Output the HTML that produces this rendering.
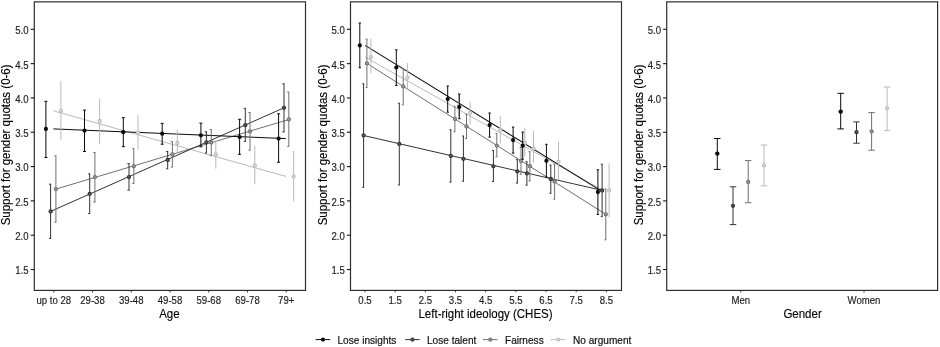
<!DOCTYPE html>
<html><head><meta charset="utf-8"><title>Support for gender quotas</title>
<style>
html,body{margin:0;padding:0;background:#fff;}
body{width:940px;height:347px;overflow:hidden;}
svg{display:block;}
text{font-family:"Liberation Sans",Arial,sans-serif;}
.tk{font-size:9.6px;fill:#222;stroke:#222;stroke-width:.15px;}
.ti{font-size:11.5px;fill:#000;stroke:#000;stroke-width:.12px;}
.lg{font-size:10.1px;fill:#111;stroke:#111;stroke-width:.18px;}
</style></head><body>
<svg width="940" height="347" viewBox="0 0 940 347">
<rect width="940" height="347" fill="#fff"/>
<rect x="34.3" y="1.85" width="271.20" height="288.55" fill="#fff" stroke="#2e2e2e" stroke-width="1.2"/>
<line x1="30.70" y1="269.54" x2="34.30" y2="269.54" stroke="#1c1c1c" stroke-width="1.15"/>
<text transform="translate(28.60,274.44) scale(1,1.08)" text-anchor="end" class="tk">1.5</text>
<line x1="30.70" y1="235.22" x2="34.30" y2="235.22" stroke="#1c1c1c" stroke-width="1.15"/>
<text transform="translate(28.60,240.12) scale(1,1.08)" text-anchor="end" class="tk">2.0</text>
<line x1="30.70" y1="200.90" x2="34.30" y2="200.90" stroke="#1c1c1c" stroke-width="1.15"/>
<text transform="translate(28.60,205.80) scale(1,1.08)" text-anchor="end" class="tk">2.5</text>
<line x1="30.70" y1="166.58" x2="34.30" y2="166.58" stroke="#1c1c1c" stroke-width="1.15"/>
<text transform="translate(28.60,171.48) scale(1,1.08)" text-anchor="end" class="tk">3.0</text>
<line x1="30.70" y1="132.26" x2="34.30" y2="132.26" stroke="#1c1c1c" stroke-width="1.15"/>
<text transform="translate(28.60,137.16) scale(1,1.08)" text-anchor="end" class="tk">3.5</text>
<line x1="30.70" y1="97.94" x2="34.30" y2="97.94" stroke="#1c1c1c" stroke-width="1.15"/>
<text transform="translate(28.60,102.84) scale(1,1.08)" text-anchor="end" class="tk">4.0</text>
<line x1="30.70" y1="63.62" x2="34.30" y2="63.62" stroke="#1c1c1c" stroke-width="1.15"/>
<text transform="translate(28.60,68.52) scale(1,1.08)" text-anchor="end" class="tk">4.5</text>
<line x1="30.70" y1="29.30" x2="34.30" y2="29.30" stroke="#1c1c1c" stroke-width="1.15"/>
<text transform="translate(28.60,34.20) scale(1,1.08)" text-anchor="end" class="tk">5.0</text>
<text transform="translate(10.30,144.90) rotate(-90) scale(1,1.04)" text-anchor="middle" class="ti">Support for gender quotas (0-6)</text>
<rect x="350.5" y="1.85" width="271.00" height="288.55" fill="#fff" stroke="#2e2e2e" stroke-width="1.2"/>
<line x1="346.90" y1="269.54" x2="350.50" y2="269.54" stroke="#1c1c1c" stroke-width="1.15"/>
<text transform="translate(344.80,274.44) scale(1,1.08)" text-anchor="end" class="tk">1.5</text>
<line x1="346.90" y1="235.22" x2="350.50" y2="235.22" stroke="#1c1c1c" stroke-width="1.15"/>
<text transform="translate(344.80,240.12) scale(1,1.08)" text-anchor="end" class="tk">2.0</text>
<line x1="346.90" y1="200.90" x2="350.50" y2="200.90" stroke="#1c1c1c" stroke-width="1.15"/>
<text transform="translate(344.80,205.80) scale(1,1.08)" text-anchor="end" class="tk">2.5</text>
<line x1="346.90" y1="166.58" x2="350.50" y2="166.58" stroke="#1c1c1c" stroke-width="1.15"/>
<text transform="translate(344.80,171.48) scale(1,1.08)" text-anchor="end" class="tk">3.0</text>
<line x1="346.90" y1="132.26" x2="350.50" y2="132.26" stroke="#1c1c1c" stroke-width="1.15"/>
<text transform="translate(344.80,137.16) scale(1,1.08)" text-anchor="end" class="tk">3.5</text>
<line x1="346.90" y1="97.94" x2="350.50" y2="97.94" stroke="#1c1c1c" stroke-width="1.15"/>
<text transform="translate(344.80,102.84) scale(1,1.08)" text-anchor="end" class="tk">4.0</text>
<line x1="346.90" y1="63.62" x2="350.50" y2="63.62" stroke="#1c1c1c" stroke-width="1.15"/>
<text transform="translate(344.80,68.52) scale(1,1.08)" text-anchor="end" class="tk">4.5</text>
<line x1="346.90" y1="29.30" x2="350.50" y2="29.30" stroke="#1c1c1c" stroke-width="1.15"/>
<text transform="translate(344.80,34.20) scale(1,1.08)" text-anchor="end" class="tk">5.0</text>
<text transform="translate(326.50,144.90) rotate(-90) scale(1,1.04)" text-anchor="middle" class="ti">Support for gender quotas (0-6)</text>
<rect x="666.7" y="1.85" width="270.90" height="288.55" fill="#fff" stroke="#2e2e2e" stroke-width="1.2"/>
<line x1="663.10" y1="269.54" x2="666.70" y2="269.54" stroke="#1c1c1c" stroke-width="1.15"/>
<text transform="translate(661.00,274.44) scale(1,1.08)" text-anchor="end" class="tk">1.5</text>
<line x1="663.10" y1="235.22" x2="666.70" y2="235.22" stroke="#1c1c1c" stroke-width="1.15"/>
<text transform="translate(661.00,240.12) scale(1,1.08)" text-anchor="end" class="tk">2.0</text>
<line x1="663.10" y1="200.90" x2="666.70" y2="200.90" stroke="#1c1c1c" stroke-width="1.15"/>
<text transform="translate(661.00,205.80) scale(1,1.08)" text-anchor="end" class="tk">2.5</text>
<line x1="663.10" y1="166.58" x2="666.70" y2="166.58" stroke="#1c1c1c" stroke-width="1.15"/>
<text transform="translate(661.00,171.48) scale(1,1.08)" text-anchor="end" class="tk">3.0</text>
<line x1="663.10" y1="132.26" x2="666.70" y2="132.26" stroke="#1c1c1c" stroke-width="1.15"/>
<text transform="translate(661.00,137.16) scale(1,1.08)" text-anchor="end" class="tk">3.5</text>
<line x1="663.10" y1="97.94" x2="666.70" y2="97.94" stroke="#1c1c1c" stroke-width="1.15"/>
<text transform="translate(661.00,102.84) scale(1,1.08)" text-anchor="end" class="tk">4.0</text>
<line x1="663.10" y1="63.62" x2="666.70" y2="63.62" stroke="#1c1c1c" stroke-width="1.15"/>
<text transform="translate(661.00,68.52) scale(1,1.08)" text-anchor="end" class="tk">4.5</text>
<line x1="663.10" y1="29.30" x2="666.70" y2="29.30" stroke="#1c1c1c" stroke-width="1.15"/>
<text transform="translate(661.00,34.20) scale(1,1.08)" text-anchor="end" class="tk">5.0</text>
<text transform="translate(642.70,144.90) rotate(-90) scale(1,1.04)" text-anchor="middle" class="ti">Support for gender quotas (0-6)</text>
<line x1="53.75" y1="290.4" x2="53.75" y2="292.4" stroke="#2e2e2e" stroke-width="1"/>
<text transform="translate(53.75,303.5) scale(1,1.08)" text-anchor="middle" class="tk">up to 28</text>
<line x1="92.50" y1="290.4" x2="92.50" y2="292.4" stroke="#2e2e2e" stroke-width="1"/>
<text transform="translate(92.50,303.5) scale(1,1.08)" text-anchor="middle" class="tk">29-38</text>
<line x1="131.25" y1="290.4" x2="131.25" y2="292.4" stroke="#2e2e2e" stroke-width="1"/>
<text transform="translate(131.25,303.5) scale(1,1.08)" text-anchor="middle" class="tk">39-48</text>
<line x1="170.00" y1="290.4" x2="170.00" y2="292.4" stroke="#2e2e2e" stroke-width="1"/>
<text transform="translate(170.00,303.5) scale(1,1.08)" text-anchor="middle" class="tk">49-58</text>
<line x1="208.75" y1="290.4" x2="208.75" y2="292.4" stroke="#2e2e2e" stroke-width="1"/>
<text transform="translate(208.75,303.5) scale(1,1.08)" text-anchor="middle" class="tk">59-68</text>
<line x1="247.50" y1="290.4" x2="247.50" y2="292.4" stroke="#2e2e2e" stroke-width="1"/>
<text transform="translate(247.50,303.5) scale(1,1.08)" text-anchor="middle" class="tk">69-78</text>
<line x1="286.25" y1="290.4" x2="286.25" y2="292.4" stroke="#2e2e2e" stroke-width="1"/>
<text transform="translate(286.25,303.5) scale(1,1.08)" text-anchor="middle" class="tk">79+</text>
<text transform="translate(169.40,317.5) scale(1,1.08)" text-anchor="middle" class="ti">Age</text>
<line x1="53.40" y1="110.80" x2="285.80" y2="176.40" stroke="#bababa" stroke-width="1.0"/>
<line x1="55.90" y1="189.10" x2="288.80" y2="119.50" stroke="#707070" stroke-width="1.0"/>
<line x1="50.60" y1="211.40" x2="284.00" y2="107.80" stroke="#333333" stroke-width="1.0"/>
<line x1="53.40" y1="128.90" x2="285.80" y2="138.60" stroke="#0a0a0a" stroke-width="1.0"/>
<line x1="60.90" y1="81.00" x2="60.90" y2="140.20" stroke="#bababa" stroke-width="1.0"/>
<circle cx="60.90" cy="110.80" r="1.6" fill="#dedede" stroke="#bababa" stroke-width="1.1"/>
<line x1="99.60" y1="98.80" x2="99.60" y2="144.20" stroke="#bababa" stroke-width="1.0"/>
<circle cx="99.60" cy="120.90" r="1.6" fill="#dedede" stroke="#bababa" stroke-width="1.1"/>
<line x1="138.00" y1="115.30" x2="138.00" y2="149.70" stroke="#bababa" stroke-width="1.0"/>
<circle cx="138.00" cy="132.40" r="1.6" fill="#dedede" stroke="#bababa" stroke-width="1.1"/>
<line x1="177.40" y1="129.60" x2="177.40" y2="155.00" stroke="#bababa" stroke-width="1.0"/>
<circle cx="177.40" cy="143.20" r="1.6" fill="#dedede" stroke="#bababa" stroke-width="1.1"/>
<line x1="215.80" y1="141.30" x2="215.80" y2="168.60" stroke="#bababa" stroke-width="1.0"/>
<circle cx="215.80" cy="154.40" r="1.6" fill="#dedede" stroke="#bababa" stroke-width="1.1"/>
<line x1="254.80" y1="146.10" x2="254.80" y2="184.40" stroke="#bababa" stroke-width="1.0"/>
<circle cx="254.80" cy="165.40" r="1.6" fill="#dedede" stroke="#bababa" stroke-width="1.1"/>
<line x1="293.60" y1="151.00" x2="293.60" y2="201.50" stroke="#bababa" stroke-width="1.0"/>
<circle cx="293.60" cy="176.40" r="1.6" fill="#dedede" stroke="#bababa" stroke-width="1.1"/>
<line x1="55.90" y1="155.80" x2="55.90" y2="222.20" stroke="#707070" stroke-width="1.0"/>
<line x1="54.30" y1="155.80" x2="56.40" y2="155.80" stroke="#707070" stroke-width="1.0"/>
<line x1="54.30" y1="222.20" x2="56.40" y2="222.20" stroke="#707070" stroke-width="1.0"/>
<circle cx="55.90" cy="189.10" r="1.6" fill="#9c9c9c" stroke="#707070" stroke-width="1.1"/>
<line x1="94.90" y1="152.50" x2="94.90" y2="202.10" stroke="#707070" stroke-width="1.0"/>
<line x1="93.30" y1="152.50" x2="95.40" y2="152.50" stroke="#707070" stroke-width="1.0"/>
<line x1="93.30" y1="202.10" x2="95.40" y2="202.10" stroke="#707070" stroke-width="1.0"/>
<circle cx="94.90" cy="177.20" r="1.6" fill="#9c9c9c" stroke="#707070" stroke-width="1.1"/>
<line x1="133.80" y1="148.70" x2="133.80" y2="183.50" stroke="#707070" stroke-width="1.0"/>
<line x1="132.20" y1="148.70" x2="134.30" y2="148.70" stroke="#707070" stroke-width="1.0"/>
<line x1="132.20" y1="183.50" x2="134.30" y2="183.50" stroke="#707070" stroke-width="1.0"/>
<circle cx="133.80" cy="166.30" r="1.6" fill="#9c9c9c" stroke="#707070" stroke-width="1.1"/>
<line x1="172.40" y1="141.60" x2="172.40" y2="167.10" stroke="#707070" stroke-width="1.0"/>
<line x1="170.80" y1="141.60" x2="172.90" y2="141.60" stroke="#707070" stroke-width="1.0"/>
<line x1="170.80" y1="167.10" x2="172.90" y2="167.10" stroke="#707070" stroke-width="1.0"/>
<circle cx="172.40" cy="154.40" r="1.6" fill="#9c9c9c" stroke="#707070" stroke-width="1.1"/>
<line x1="211.30" y1="129.50" x2="211.30" y2="155.60" stroke="#707070" stroke-width="1.0"/>
<line x1="209.70" y1="129.50" x2="211.80" y2="129.50" stroke="#707070" stroke-width="1.0"/>
<line x1="209.70" y1="155.60" x2="211.80" y2="155.60" stroke="#707070" stroke-width="1.0"/>
<circle cx="211.30" cy="142.50" r="1.6" fill="#9c9c9c" stroke="#707070" stroke-width="1.1"/>
<line x1="250.00" y1="112.50" x2="250.00" y2="150.20" stroke="#707070" stroke-width="1.0"/>
<line x1="248.40" y1="112.50" x2="250.50" y2="112.50" stroke="#707070" stroke-width="1.0"/>
<line x1="248.40" y1="150.20" x2="250.50" y2="150.20" stroke="#707070" stroke-width="1.0"/>
<circle cx="250.00" cy="131.40" r="1.6" fill="#9c9c9c" stroke="#707070" stroke-width="1.1"/>
<line x1="288.80" y1="92.10" x2="288.80" y2="146.30" stroke="#707070" stroke-width="1.0"/>
<line x1="287.20" y1="92.10" x2="289.30" y2="92.10" stroke="#707070" stroke-width="1.0"/>
<line x1="287.20" y1="146.30" x2="289.30" y2="146.30" stroke="#707070" stroke-width="1.0"/>
<circle cx="288.80" cy="119.50" r="1.6" fill="#9c9c9c" stroke="#707070" stroke-width="1.1"/>
<line x1="50.60" y1="184.20" x2="50.60" y2="238.50" stroke="#333333" stroke-width="1.0"/>
<line x1="49.00" y1="184.20" x2="51.10" y2="184.20" stroke="#333333" stroke-width="1.0"/>
<line x1="49.00" y1="238.50" x2="51.10" y2="238.50" stroke="#333333" stroke-width="1.0"/>
<circle cx="50.60" cy="211.40" r="1.6" fill="#5a5a5a" stroke="#333333" stroke-width="1.1"/>
<line x1="89.70" y1="173.90" x2="89.70" y2="213.60" stroke="#333333" stroke-width="1.0"/>
<line x1="88.10" y1="173.90" x2="90.20" y2="173.90" stroke="#333333" stroke-width="1.0"/>
<line x1="88.10" y1="213.60" x2="90.20" y2="213.60" stroke="#333333" stroke-width="1.0"/>
<circle cx="89.70" cy="193.80" r="1.6" fill="#5a5a5a" stroke="#333333" stroke-width="1.1"/>
<line x1="129.00" y1="163.60" x2="129.00" y2="190.20" stroke="#333333" stroke-width="1.0"/>
<line x1="127.40" y1="163.60" x2="129.50" y2="163.60" stroke="#333333" stroke-width="1.0"/>
<line x1="127.40" y1="190.20" x2="129.50" y2="190.20" stroke="#333333" stroke-width="1.0"/>
<circle cx="129.00" cy="177.10" r="1.6" fill="#5a5a5a" stroke="#333333" stroke-width="1.1"/>
<line x1="167.70" y1="151.40" x2="167.70" y2="168.80" stroke="#333333" stroke-width="1.0"/>
<line x1="166.10" y1="151.40" x2="168.20" y2="151.40" stroke="#333333" stroke-width="1.0"/>
<line x1="166.10" y1="168.80" x2="168.20" y2="168.80" stroke="#333333" stroke-width="1.0"/>
<circle cx="167.70" cy="160.00" r="1.6" fill="#5a5a5a" stroke="#333333" stroke-width="1.1"/>
<line x1="206.40" y1="131.70" x2="206.40" y2="153.10" stroke="#333333" stroke-width="1.0"/>
<line x1="204.80" y1="131.70" x2="206.90" y2="131.70" stroke="#333333" stroke-width="1.0"/>
<line x1="204.80" y1="153.10" x2="206.90" y2="153.10" stroke="#333333" stroke-width="1.0"/>
<circle cx="206.40" cy="142.30" r="1.6" fill="#5a5a5a" stroke="#333333" stroke-width="1.1"/>
<line x1="245.30" y1="108.30" x2="245.30" y2="141.40" stroke="#333333" stroke-width="1.0"/>
<line x1="243.70" y1="108.30" x2="245.80" y2="108.30" stroke="#333333" stroke-width="1.0"/>
<line x1="243.70" y1="141.40" x2="245.80" y2="141.40" stroke="#333333" stroke-width="1.0"/>
<circle cx="245.30" cy="125.20" r="1.6" fill="#5a5a5a" stroke="#333333" stroke-width="1.1"/>
<line x1="284.00" y1="83.80" x2="284.00" y2="132.00" stroke="#333333" stroke-width="1.0"/>
<line x1="282.40" y1="83.80" x2="284.50" y2="83.80" stroke="#333333" stroke-width="1.0"/>
<line x1="282.40" y1="132.00" x2="284.50" y2="132.00" stroke="#333333" stroke-width="1.0"/>
<circle cx="284.00" cy="107.80" r="1.6" fill="#5a5a5a" stroke="#333333" stroke-width="1.1"/>
<line x1="45.90" y1="101.30" x2="45.90" y2="157.50" stroke="#0a0a0a" stroke-width="1.0"/>
<line x1="44.40" y1="101.30" x2="47.40" y2="101.30" stroke="#0a0a0a" stroke-width="1.0"/>
<line x1="44.40" y1="157.50" x2="47.40" y2="157.50" stroke="#0a0a0a" stroke-width="1.0"/>
<circle cx="45.90" cy="128.90" r="2.1" fill="#0a0a0a"/>
<line x1="84.50" y1="110.10" x2="84.50" y2="151.50" stroke="#0a0a0a" stroke-width="1.0"/>
<line x1="83.00" y1="110.10" x2="86.00" y2="110.10" stroke="#0a0a0a" stroke-width="1.0"/>
<line x1="83.00" y1="151.50" x2="86.00" y2="151.50" stroke="#0a0a0a" stroke-width="1.0"/>
<circle cx="84.50" cy="130.60" r="2.1" fill="#0a0a0a"/>
<line x1="123.30" y1="117.70" x2="123.30" y2="146.70" stroke="#0a0a0a" stroke-width="1.0"/>
<line x1="121.80" y1="117.70" x2="124.80" y2="117.70" stroke="#0a0a0a" stroke-width="1.0"/>
<line x1="121.80" y1="146.70" x2="124.80" y2="146.70" stroke="#0a0a0a" stroke-width="1.0"/>
<circle cx="123.30" cy="132.20" r="2.1" fill="#0a0a0a"/>
<line x1="162.20" y1="123.40" x2="162.20" y2="144.20" stroke="#0a0a0a" stroke-width="1.0"/>
<line x1="160.70" y1="123.40" x2="163.70" y2="123.40" stroke="#0a0a0a" stroke-width="1.0"/>
<line x1="160.70" y1="144.20" x2="163.70" y2="144.20" stroke="#0a0a0a" stroke-width="1.0"/>
<circle cx="162.20" cy="133.70" r="2.1" fill="#0a0a0a"/>
<line x1="200.90" y1="123.20" x2="200.90" y2="146.80" stroke="#0a0a0a" stroke-width="1.0"/>
<line x1="199.40" y1="123.20" x2="202.40" y2="123.20" stroke="#0a0a0a" stroke-width="1.0"/>
<line x1="199.40" y1="146.80" x2="202.40" y2="146.80" stroke="#0a0a0a" stroke-width="1.0"/>
<circle cx="200.90" cy="135.30" r="2.1" fill="#0a0a0a"/>
<line x1="239.60" y1="119.30" x2="239.60" y2="154.30" stroke="#0a0a0a" stroke-width="1.0"/>
<line x1="238.10" y1="119.30" x2="241.10" y2="119.30" stroke="#0a0a0a" stroke-width="1.0"/>
<line x1="238.10" y1="154.30" x2="241.10" y2="154.30" stroke="#0a0a0a" stroke-width="1.0"/>
<circle cx="239.60" cy="137.00" r="2.1" fill="#0a0a0a"/>
<line x1="278.60" y1="113.80" x2="278.60" y2="162.20" stroke="#0a0a0a" stroke-width="1.0"/>
<line x1="277.10" y1="113.80" x2="280.10" y2="113.80" stroke="#0a0a0a" stroke-width="1.0"/>
<line x1="277.10" y1="162.20" x2="280.10" y2="162.20" stroke="#0a0a0a" stroke-width="1.0"/>
<circle cx="278.60" cy="138.60" r="2.1" fill="#0a0a0a"/>
<line x1="365.00" y1="290.4" x2="365.00" y2="292.2" stroke="#2e2e2e" stroke-width="1"/>
<text transform="translate(365.00,303.5) scale(1,1.08)" text-anchor="middle" class="tk">0.5</text>
<line x1="395.17" y1="290.4" x2="395.17" y2="292.2" stroke="#2e2e2e" stroke-width="1"/>
<text transform="translate(395.17,303.5) scale(1,1.08)" text-anchor="middle" class="tk">1.5</text>
<line x1="425.34" y1="290.4" x2="425.34" y2="292.2" stroke="#2e2e2e" stroke-width="1"/>
<text transform="translate(425.34,303.5) scale(1,1.08)" text-anchor="middle" class="tk">2.5</text>
<line x1="455.51" y1="290.4" x2="455.51" y2="292.2" stroke="#2e2e2e" stroke-width="1"/>
<text transform="translate(455.51,303.5) scale(1,1.08)" text-anchor="middle" class="tk">3.5</text>
<line x1="485.68" y1="290.4" x2="485.68" y2="292.2" stroke="#2e2e2e" stroke-width="1"/>
<text transform="translate(485.68,303.5) scale(1,1.08)" text-anchor="middle" class="tk">4.5</text>
<line x1="515.85" y1="290.4" x2="515.85" y2="292.2" stroke="#2e2e2e" stroke-width="1"/>
<text transform="translate(515.85,303.5) scale(1,1.08)" text-anchor="middle" class="tk">5.5</text>
<line x1="546.02" y1="290.4" x2="546.02" y2="292.2" stroke="#2e2e2e" stroke-width="1"/>
<text transform="translate(546.02,303.5) scale(1,1.08)" text-anchor="middle" class="tk">6.5</text>
<line x1="576.19" y1="290.4" x2="576.19" y2="292.2" stroke="#2e2e2e" stroke-width="1"/>
<text transform="translate(576.19,303.5) scale(1,1.08)" text-anchor="middle" class="tk">7.5</text>
<line x1="606.36" y1="290.4" x2="606.36" y2="292.2" stroke="#2e2e2e" stroke-width="1"/>
<text transform="translate(606.36,303.5) scale(1,1.08)" text-anchor="middle" class="tk">8.5</text>
<text transform="translate(485.50,317.5) scale(1,1.08)" text-anchor="middle" class="ti">Left-right ideology (CHES)</text>
<line x1="365.10" y1="57.20" x2="603.20" y2="190.44" stroke="#bababa" stroke-width="1.0"/>
<line x1="366.90" y1="63.40" x2="605.80" y2="214.30" stroke="#707070" stroke-width="1.0"/>
<line x1="363.60" y1="135.50" x2="602.10" y2="190.40" stroke="#333333" stroke-width="1.0"/>
<line x1="365.10" y1="45.40" x2="603.20" y2="192.10" stroke="#0a0a0a" stroke-width="1.05"/>
<line x1="370.90" y1="38.90" x2="370.90" y2="73.20" stroke="#bababa" stroke-width="1.0"/>
<circle cx="370.90" cy="57.20" r="1.6" fill="#dedede" stroke="#bababa" stroke-width="1.1"/>
<line x1="407.40" y1="63.10" x2="407.40" y2="88.40" stroke="#bababa" stroke-width="1.0"/>
<circle cx="407.40" cy="77.63" r="1.6" fill="#dedede" stroke="#bababa" stroke-width="1.1"/>
<line x1="458.70" y1="92.50" x2="458.70" y2="116.50" stroke="#bababa" stroke-width="1.0"/>
<circle cx="458.70" cy="106.44" r="1.6" fill="#dedede" stroke="#bababa" stroke-width="1.1"/>
<line x1="470.10" y1="101.30" x2="470.10" y2="124.40" stroke="#bababa" stroke-width="1.0"/>
<circle cx="470.10" cy="112.82" r="1.6" fill="#dedede" stroke="#bababa" stroke-width="1.1"/>
<line x1="500.30" y1="116.10" x2="500.30" y2="143.40" stroke="#bababa" stroke-width="1.0"/>
<circle cx="500.30" cy="129.84" r="1.6" fill="#dedede" stroke="#bababa" stroke-width="1.1"/>
<line x1="524.80" y1="127.60" x2="524.80" y2="156.70" stroke="#bababa" stroke-width="1.0"/>
<circle cx="524.80" cy="142.99" r="1.6" fill="#dedede" stroke="#bababa" stroke-width="1.1"/>
<line x1="533.50" y1="130.90" x2="533.50" y2="162.60" stroke="#bababa" stroke-width="1.0"/>
<circle cx="533.50" cy="148.36" r="1.6" fill="#dedede" stroke="#bababa" stroke-width="1.1"/>
<line x1="558.50" y1="141.80" x2="558.50" y2="180.20" stroke="#bababa" stroke-width="1.0"/>
<circle cx="558.50" cy="161.62" r="1.6" fill="#dedede" stroke="#bababa" stroke-width="1.1"/>
<line x1="609.10" y1="163.40" x2="609.10" y2="217.60" stroke="#bababa" stroke-width="1.0"/>
<circle cx="609.10" cy="190.44" r="1.6" fill="#dedede" stroke="#bababa" stroke-width="1.1"/>
<line x1="366.90" y1="39.20" x2="366.90" y2="87.60" stroke="#707070" stroke-width="1.0"/>
<line x1="365.50" y1="39.20" x2="367.40" y2="39.20" stroke="#707070" stroke-width="1.0"/>
<line x1="365.50" y1="87.60" x2="367.40" y2="87.60" stroke="#707070" stroke-width="1.0"/>
<circle cx="366.90" cy="63.40" r="1.6" fill="#9c9c9c" stroke="#707070" stroke-width="1.1"/>
<line x1="403.20" y1="68.40" x2="403.20" y2="104.80" stroke="#707070" stroke-width="1.0"/>
<line x1="401.80" y1="68.40" x2="403.70" y2="68.40" stroke="#707070" stroke-width="1.0"/>
<line x1="401.80" y1="104.80" x2="403.70" y2="104.80" stroke="#707070" stroke-width="1.0"/>
<circle cx="403.20" cy="86.40" r="1.6" fill="#9c9c9c" stroke="#707070" stroke-width="1.1"/>
<line x1="454.90" y1="106.30" x2="454.90" y2="131.80" stroke="#707070" stroke-width="1.0"/>
<line x1="453.50" y1="106.30" x2="455.40" y2="106.30" stroke="#707070" stroke-width="1.0"/>
<line x1="453.50" y1="131.80" x2="455.40" y2="131.80" stroke="#707070" stroke-width="1.0"/>
<circle cx="454.90" cy="118.90" r="1.6" fill="#9c9c9c" stroke="#707070" stroke-width="1.1"/>
<line x1="466.50" y1="114.00" x2="466.50" y2="138.50" stroke="#707070" stroke-width="1.0"/>
<line x1="465.10" y1="114.00" x2="467.00" y2="114.00" stroke="#707070" stroke-width="1.0"/>
<line x1="465.10" y1="138.50" x2="467.00" y2="138.50" stroke="#707070" stroke-width="1.0"/>
<circle cx="466.50" cy="126.50" r="1.6" fill="#9c9c9c" stroke="#707070" stroke-width="1.1"/>
<line x1="496.80" y1="133.40" x2="496.80" y2="156.90" stroke="#707070" stroke-width="1.0"/>
<line x1="495.40" y1="133.40" x2="497.30" y2="133.40" stroke="#707070" stroke-width="1.0"/>
<line x1="495.40" y1="156.90" x2="497.30" y2="156.90" stroke="#707070" stroke-width="1.0"/>
<circle cx="496.80" cy="145.60" r="1.6" fill="#9c9c9c" stroke="#707070" stroke-width="1.1"/>
<line x1="521.00" y1="147.50" x2="521.00" y2="174.30" stroke="#707070" stroke-width="1.0"/>
<line x1="519.60" y1="147.50" x2="521.50" y2="147.50" stroke="#707070" stroke-width="1.0"/>
<line x1="519.60" y1="174.30" x2="521.50" y2="174.30" stroke="#707070" stroke-width="1.0"/>
<circle cx="521.00" cy="160.90" r="1.6" fill="#9c9c9c" stroke="#707070" stroke-width="1.1"/>
<line x1="529.90" y1="151.70" x2="529.90" y2="181.00" stroke="#707070" stroke-width="1.0"/>
<line x1="528.50" y1="151.70" x2="530.40" y2="151.70" stroke="#707070" stroke-width="1.0"/>
<line x1="528.50" y1="181.00" x2="530.40" y2="181.00" stroke="#707070" stroke-width="1.0"/>
<circle cx="529.90" cy="166.20" r="1.6" fill="#9c9c9c" stroke="#707070" stroke-width="1.1"/>
<line x1="554.60" y1="164.20" x2="554.60" y2="199.20" stroke="#707070" stroke-width="1.0"/>
<line x1="553.20" y1="164.20" x2="555.10" y2="164.20" stroke="#707070" stroke-width="1.0"/>
<line x1="553.20" y1="199.20" x2="555.10" y2="199.20" stroke="#707070" stroke-width="1.0"/>
<circle cx="554.60" cy="181.60" r="1.6" fill="#9c9c9c" stroke="#707070" stroke-width="1.1"/>
<line x1="605.80" y1="189.00" x2="605.80" y2="239.80" stroke="#707070" stroke-width="1.0"/>
<line x1="604.40" y1="189.00" x2="606.30" y2="189.00" stroke="#707070" stroke-width="1.0"/>
<line x1="604.40" y1="239.80" x2="606.30" y2="239.80" stroke="#707070" stroke-width="1.0"/>
<circle cx="605.80" cy="214.30" r="1.6" fill="#9c9c9c" stroke="#707070" stroke-width="1.1"/>
<line x1="363.60" y1="83.80" x2="363.60" y2="187.40" stroke="#333333" stroke-width="1.0"/>
<line x1="362.20" y1="83.80" x2="364.10" y2="83.80" stroke="#333333" stroke-width="1.0"/>
<line x1="362.20" y1="187.40" x2="364.10" y2="187.40" stroke="#333333" stroke-width="1.0"/>
<circle cx="363.60" cy="135.50" r="1.6" fill="#5a5a5a" stroke="#333333" stroke-width="1.1"/>
<line x1="399.30" y1="103.20" x2="399.30" y2="185.00" stroke="#333333" stroke-width="1.0"/>
<line x1="397.90" y1="103.20" x2="399.80" y2="103.20" stroke="#333333" stroke-width="1.0"/>
<line x1="397.90" y1="185.00" x2="399.80" y2="185.00" stroke="#333333" stroke-width="1.0"/>
<circle cx="399.30" cy="143.90" r="1.6" fill="#5a5a5a" stroke="#333333" stroke-width="1.1"/>
<line x1="450.80" y1="129.80" x2="450.80" y2="182.10" stroke="#333333" stroke-width="1.0"/>
<line x1="449.40" y1="129.80" x2="451.30" y2="129.80" stroke="#333333" stroke-width="1.0"/>
<line x1="449.40" y1="182.10" x2="451.30" y2="182.10" stroke="#333333" stroke-width="1.0"/>
<circle cx="450.80" cy="155.90" r="1.6" fill="#5a5a5a" stroke="#333333" stroke-width="1.1"/>
<line x1="463.40" y1="136.00" x2="463.40" y2="181.20" stroke="#333333" stroke-width="1.0"/>
<line x1="462.00" y1="136.00" x2="463.90" y2="136.00" stroke="#333333" stroke-width="1.0"/>
<line x1="462.00" y1="181.20" x2="463.90" y2="181.20" stroke="#333333" stroke-width="1.0"/>
<circle cx="463.40" cy="158.80" r="1.6" fill="#5a5a5a" stroke="#333333" stroke-width="1.1"/>
<line x1="493.40" y1="150.40" x2="493.40" y2="181.50" stroke="#333333" stroke-width="1.0"/>
<line x1="492.00" y1="150.40" x2="493.90" y2="150.40" stroke="#333333" stroke-width="1.0"/>
<line x1="492.00" y1="181.50" x2="493.90" y2="181.50" stroke="#333333" stroke-width="1.0"/>
<circle cx="493.40" cy="166.30" r="1.6" fill="#5a5a5a" stroke="#333333" stroke-width="1.1"/>
<line x1="517.30" y1="159.70" x2="517.30" y2="183.10" stroke="#333333" stroke-width="1.0"/>
<line x1="515.90" y1="159.70" x2="517.80" y2="159.70" stroke="#333333" stroke-width="1.0"/>
<line x1="515.90" y1="183.10" x2="517.80" y2="183.10" stroke="#333333" stroke-width="1.0"/>
<circle cx="517.30" cy="171.40" r="1.6" fill="#5a5a5a" stroke="#333333" stroke-width="1.1"/>
<line x1="526.90" y1="161.70" x2="526.90" y2="185.20" stroke="#333333" stroke-width="1.0"/>
<line x1="525.50" y1="161.70" x2="527.40" y2="161.70" stroke="#333333" stroke-width="1.0"/>
<line x1="525.50" y1="185.20" x2="527.40" y2="185.20" stroke="#333333" stroke-width="1.0"/>
<circle cx="526.90" cy="173.40" r="1.6" fill="#5a5a5a" stroke="#333333" stroke-width="1.1"/>
<line x1="550.80" y1="165.10" x2="550.80" y2="193.30" stroke="#333333" stroke-width="1.0"/>
<line x1="549.40" y1="165.10" x2="551.30" y2="165.10" stroke="#333333" stroke-width="1.0"/>
<line x1="549.40" y1="193.30" x2="551.30" y2="193.30" stroke="#333333" stroke-width="1.0"/>
<circle cx="550.80" cy="179.00" r="1.6" fill="#5a5a5a" stroke="#333333" stroke-width="1.1"/>
<line x1="602.10" y1="164.20" x2="602.10" y2="216.60" stroke="#333333" stroke-width="1.0"/>
<line x1="600.70" y1="164.20" x2="602.60" y2="164.20" stroke="#333333" stroke-width="1.0"/>
<line x1="600.70" y1="216.60" x2="602.60" y2="216.60" stroke="#333333" stroke-width="1.0"/>
<circle cx="602.10" cy="190.40" r="1.6" fill="#5a5a5a" stroke="#333333" stroke-width="1.1"/>
<line x1="359.80" y1="23.00" x2="359.80" y2="67.70" stroke="#0a0a0a" stroke-width="1.0"/>
<line x1="358.60" y1="23.00" x2="361.00" y2="23.00" stroke="#0a0a0a" stroke-width="1.0"/>
<line x1="358.60" y1="67.70" x2="361.00" y2="67.70" stroke="#0a0a0a" stroke-width="1.0"/>
<circle cx="359.80" cy="45.40" r="2.1" fill="#0a0a0a"/>
<line x1="396.30" y1="49.80" x2="396.30" y2="85.50" stroke="#0a0a0a" stroke-width="1.0"/>
<line x1="395.10" y1="49.80" x2="397.50" y2="49.80" stroke="#0a0a0a" stroke-width="1.0"/>
<line x1="395.10" y1="85.50" x2="397.50" y2="85.50" stroke="#0a0a0a" stroke-width="1.0"/>
<circle cx="396.30" cy="67.50" r="2.1" fill="#0a0a0a"/>
<line x1="447.70" y1="86.00" x2="447.70" y2="112.20" stroke="#0a0a0a" stroke-width="1.0"/>
<line x1="446.50" y1="86.00" x2="448.90" y2="86.00" stroke="#0a0a0a" stroke-width="1.0"/>
<line x1="446.50" y1="112.20" x2="448.90" y2="112.20" stroke="#0a0a0a" stroke-width="1.0"/>
<circle cx="447.70" cy="99.00" r="2.1" fill="#0a0a0a"/>
<line x1="459.30" y1="94.20" x2="459.30" y2="118.70" stroke="#0a0a0a" stroke-width="1.0"/>
<line x1="458.10" y1="94.20" x2="460.50" y2="94.20" stroke="#0a0a0a" stroke-width="1.0"/>
<line x1="458.10" y1="118.70" x2="460.50" y2="118.70" stroke="#0a0a0a" stroke-width="1.0"/>
<circle cx="459.30" cy="107.00" r="2.1" fill="#0a0a0a"/>
<line x1="489.60" y1="113.00" x2="489.60" y2="137.10" stroke="#0a0a0a" stroke-width="1.0"/>
<line x1="488.40" y1="113.00" x2="490.80" y2="113.00" stroke="#0a0a0a" stroke-width="1.0"/>
<line x1="488.40" y1="137.10" x2="490.80" y2="137.10" stroke="#0a0a0a" stroke-width="1.0"/>
<circle cx="489.60" cy="125.10" r="2.1" fill="#0a0a0a"/>
<line x1="513.10" y1="127.10" x2="513.10" y2="153.10" stroke="#0a0a0a" stroke-width="1.0"/>
<line x1="511.90" y1="127.10" x2="514.30" y2="127.10" stroke="#0a0a0a" stroke-width="1.0"/>
<line x1="511.90" y1="153.10" x2="514.30" y2="153.10" stroke="#0a0a0a" stroke-width="1.0"/>
<circle cx="513.10" cy="140.10" r="2.1" fill="#0a0a0a"/>
<line x1="522.70" y1="132.10" x2="522.70" y2="159.20" stroke="#0a0a0a" stroke-width="1.0"/>
<line x1="521.50" y1="132.10" x2="523.90" y2="132.10" stroke="#0a0a0a" stroke-width="1.0"/>
<line x1="521.50" y1="159.20" x2="523.90" y2="159.20" stroke="#0a0a0a" stroke-width="1.0"/>
<circle cx="522.70" cy="145.70" r="2.1" fill="#0a0a0a"/>
<line x1="546.40" y1="144.30" x2="546.40" y2="177.10" stroke="#0a0a0a" stroke-width="1.0"/>
<line x1="545.20" y1="144.30" x2="547.60" y2="144.30" stroke="#0a0a0a" stroke-width="1.0"/>
<line x1="545.20" y1="177.10" x2="547.60" y2="177.10" stroke="#0a0a0a" stroke-width="1.0"/>
<circle cx="546.40" cy="160.80" r="2.1" fill="#0a0a0a"/>
<line x1="597.90" y1="169.80" x2="597.90" y2="214.40" stroke="#0a0a0a" stroke-width="1.0"/>
<line x1="596.70" y1="169.80" x2="599.10" y2="169.80" stroke="#0a0a0a" stroke-width="1.0"/>
<line x1="596.70" y1="214.40" x2="599.10" y2="214.40" stroke="#0a0a0a" stroke-width="1.0"/>
<circle cx="597.90" cy="192.10" r="2.1" fill="#0a0a0a"/>
<line x1="740.80" y1="290.4" x2="740.80" y2="292.4" stroke="#2e2e2e" stroke-width="1"/>
<text transform="translate(740.80,303.5) scale(1,1.08)" text-anchor="middle" class="tk">Men</text>
<line x1="864.00" y1="290.4" x2="864.00" y2="292.4" stroke="#2e2e2e" stroke-width="1"/>
<text transform="translate(864.00,303.5) scale(1,1.08)" text-anchor="middle" class="tk">Women</text>
<text transform="translate(802.55,317.5) scale(1,1.08)" text-anchor="middle" class="ti">Gender</text>
<line x1="717.30" y1="138.50" x2="717.30" y2="169.40" stroke="#0a0a0a" stroke-width="1.0"/>
<line x1="714.05" y1="138.50" x2="720.55" y2="138.50" stroke="#0a0a0a" stroke-width="1.0"/>
<line x1="714.05" y1="169.40" x2="720.55" y2="169.40" stroke="#0a0a0a" stroke-width="1.0"/>
<circle cx="717.30" cy="153.60" r="2.2" fill="#0a0a0a"/>
<line x1="733.00" y1="186.80" x2="733.00" y2="224.60" stroke="#333333" stroke-width="1.0"/>
<line x1="729.75" y1="186.80" x2="736.25" y2="186.80" stroke="#333333" stroke-width="1.0"/>
<line x1="729.75" y1="224.60" x2="736.25" y2="224.60" stroke="#333333" stroke-width="1.0"/>
<circle cx="733.00" cy="205.80" r="1.6" fill="#5a5a5a" stroke="#333333" stroke-width="1.1"/>
<line x1="748.20" y1="160.60" x2="748.20" y2="202.70" stroke="#707070" stroke-width="1.0"/>
<line x1="744.95" y1="160.60" x2="751.45" y2="160.60" stroke="#707070" stroke-width="1.0"/>
<line x1="744.95" y1="202.70" x2="751.45" y2="202.70" stroke="#707070" stroke-width="1.0"/>
<circle cx="748.20" cy="181.90" r="1.6" fill="#9c9c9c" stroke="#707070" stroke-width="1.1"/>
<line x1="764.00" y1="145.00" x2="764.00" y2="185.90" stroke="#bababa" stroke-width="1.0"/>
<line x1="760.75" y1="145.00" x2="767.25" y2="145.00" stroke="#bababa" stroke-width="1.0"/>
<line x1="760.75" y1="185.90" x2="767.25" y2="185.90" stroke="#bababa" stroke-width="1.0"/>
<circle cx="764.00" cy="165.40" r="1.6" fill="#dedede" stroke="#bababa" stroke-width="1.1"/>
<line x1="840.70" y1="93.30" x2="840.70" y2="128.90" stroke="#0a0a0a" stroke-width="1.0"/>
<line x1="837.45" y1="93.30" x2="843.95" y2="93.30" stroke="#0a0a0a" stroke-width="1.0"/>
<line x1="837.45" y1="128.90" x2="843.95" y2="128.90" stroke="#0a0a0a" stroke-width="1.0"/>
<circle cx="840.70" cy="111.60" r="2.2" fill="#0a0a0a"/>
<line x1="856.50" y1="121.90" x2="856.50" y2="143.20" stroke="#333333" stroke-width="1.0"/>
<line x1="853.25" y1="121.90" x2="859.75" y2="121.90" stroke="#333333" stroke-width="1.0"/>
<line x1="853.25" y1="143.20" x2="859.75" y2="143.20" stroke="#333333" stroke-width="1.0"/>
<circle cx="856.50" cy="132.20" r="1.6" fill="#5a5a5a" stroke="#333333" stroke-width="1.1"/>
<line x1="871.60" y1="112.60" x2="871.60" y2="150.20" stroke="#707070" stroke-width="1.0"/>
<line x1="868.35" y1="112.60" x2="874.85" y2="112.60" stroke="#707070" stroke-width="1.0"/>
<line x1="868.35" y1="150.20" x2="874.85" y2="150.20" stroke="#707070" stroke-width="1.0"/>
<circle cx="871.60" cy="131.40" r="1.6" fill="#9c9c9c" stroke="#707070" stroke-width="1.1"/>
<line x1="887.10" y1="87.00" x2="887.10" y2="130.70" stroke="#bababa" stroke-width="1.0"/>
<line x1="883.85" y1="87.00" x2="890.35" y2="87.00" stroke="#bababa" stroke-width="1.0"/>
<line x1="883.85" y1="130.70" x2="890.35" y2="130.70" stroke="#bababa" stroke-width="1.0"/>
<circle cx="887.10" cy="108.30" r="1.6" fill="#dedede" stroke="#bababa" stroke-width="1.1"/>
<line x1="315.60" y1="339.60" x2="330.20" y2="339.60" stroke="#0a0a0a" stroke-width="1.0"/>
<circle cx="323.00" cy="339.60" r="2.1" fill="#0a0a0a"/>
<text transform="translate(337.5,344.0) scale(1,1.08)" class="lg">Lose insights</text>
<line x1="405.10" y1="339.60" x2="419.70" y2="339.60" stroke="#333333" stroke-width="1.0"/>
<circle cx="412.50" cy="339.60" r="1.6" fill="#5a5a5a" stroke="#333333" stroke-width="1.1"/>
<text transform="translate(427.0,344.0) scale(1,1.08)" class="lg">Lose talent</text>
<line x1="482.90" y1="339.60" x2="497.50" y2="339.60" stroke="#707070" stroke-width="1.0"/>
<circle cx="490.30" cy="339.60" r="1.6" fill="#9c9c9c" stroke="#707070" stroke-width="1.1"/>
<text transform="translate(505.0,344.0) scale(1,1.08)" class="lg">Fairness</text>
<line x1="550.90" y1="339.60" x2="565.50" y2="339.60" stroke="#bababa" stroke-width="1.0"/>
<circle cx="558.30" cy="339.60" r="1.6" fill="#dedede" stroke="#bababa" stroke-width="1.1"/>
<text transform="translate(573.0,344.0) scale(1,1.08)" class="lg">No argument</text>
</svg>
</body></html>
